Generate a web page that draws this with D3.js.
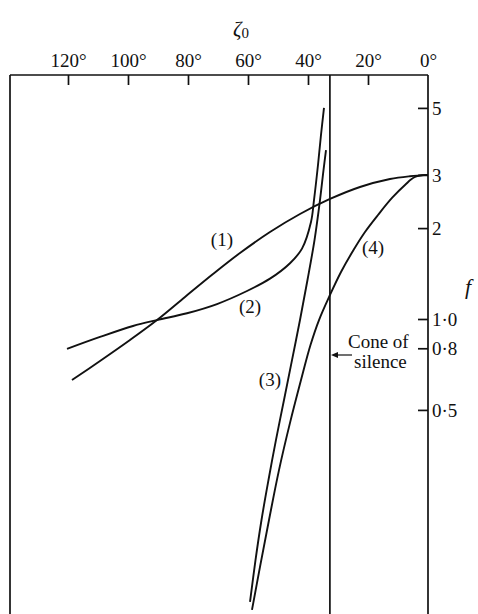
<!DOCTYPE html>
<html><head><meta charset="utf-8">
<script src="https://cdn.jsdelivr.net/npm/d3@7"></script>
<style>
html,body{margin:0;padding:0;background:#fff;}
svg{display:block;}
text{font-family:"Liberation Serif","DejaVu Serif",serif;fill:#111;}
</style></head><body>
<script>
// ζ0 in degrees, f values
const xTicks = [120, 100, 80, 60, 40, 20, 0];
const xTickLabels = ["120°", "100°", "80°", "60°", "40°", "20°", "0°"];
const yTicks = [5, 3, 2, 1.0, 0.8, 0.5];
const yTickLabels = ["5", "3", "2", "1·0", "0·8", "0·5"];
const coneAngle = 32.7;

const curve1 = [[118.67,0.628],[109.33,0.726],[99.33,0.852],[90.33,0.992],[81,1.183],[71.67,1.409],[62.67,1.654],[52.67,1.941],[42.67,2.227],[32.67,2.497],[22.67,2.736],[12.67,2.908],[6,2.97],[0,3.0]];
const curve2 = [[120.33,0.796],[109.33,0.872],[98.33,0.948],[90.33,0.992],[80.33,1.045],[70.33,1.121],[60.33,1.238],[52.67,1.36],[46,1.53],[42,1.71],[39,2.095],[38,2.477],[36.67,3.236],[35.67,4.067],[34.67,5.0]];
const curve3 = [[59.33,0.1156],[57.5,0.159],[55.5,0.216],[53.17,0.293],[50.67,0.398],[48,0.539],[45.33,0.731],[42.67,0.992],[40.17,1.346],[37.83,1.826],[36,2.477],[34.83,3.113],[34,3.627]];
const curve4 = [[58.67,0.1088],[56,0.151],[53,0.216],[49.67,0.316],[46,0.453],[42.33,0.628],[39.17,0.82],[36.33,0.992],[32.67,1.201],[29,1.431],[24.83,1.692],[21,1.941],[16.67,2.21],[12,2.516],[7.67,2.778],[4.33,2.953],[0,3.0]];
const curveLabels = ["(1)", "(2)", "(3)", "(4)"];
const labelPos = [[68.7,1.84],[59.3,1.10],[52.7,0.63],[18.3,1.72]];

const W = 478, H = 614;
const svg = d3.select("body").append("svg").attr("width", W).attr("height", H);

const x = d3.scaleLinear().domain([139.33, 0]).range([10, 428]);
const y = d3.scaleLog().domain([0.1, 10]).range([621, 17]);
const plotTop = 75, plotBottom = 614;

// frame
const g = svg.append("g").attr("stroke", "#111").attr("fill", "none");
g.append("line").attr("x1", x(139.33)).attr("x2", x(0)).attr("y1", plotTop).attr("y2", plotTop).attr("stroke-width", 1.7);
g.append("line").attr("x1", x(139.33)).attr("x2", x(139.33)).attr("y1", plotTop).attr("y2", plotBottom).attr("stroke-width", 1.7);
g.append("line").attr("x1", x(0)).attr("x2", x(0)).attr("y1", plotTop).attr("y2", plotBottom).attr("stroke-width", 1.7);
g.append("line").attr("x1", x(coneAngle)).attr("x2", x(coneAngle)).attr("y1", plotTop).attr("y2", plotBottom).attr("stroke-width", 1.7);

// top axis
const xAxis = d3.axisTop(x).tickValues(xTicks).tickSize(-10).tickPadding(8)
  .tickFormat((d, i) => xTickLabels[i]);
const xa = svg.append("g").attr("transform", `translate(0,${plotTop})`).call(xAxis);
xa.select(".domain").remove();
xa.selectAll(".tick line").attr("stroke", "#111").attr("stroke-width", 1.7)
  .attr("display", d => d === 0 ? "none" : null);
xa.selectAll(".tick text").attr("font-size", 19).attr("font-family", "Liberation Serif").attr("fill", "#111");

// right axis
const yAxis = d3.axisRight(y).tickValues(yTicks).tickSize(-10).tickPadding(14)
  .tickFormat((d, i) => yTickLabels[i]);
const ya = svg.append("g").attr("transform", `translate(${x(0)},0)`).call(yAxis);
ya.select(".domain").remove();
ya.selectAll(".tick line").attr("stroke", "#111").attr("stroke-width", 1.7);
ya.selectAll(".tick text").attr("font-size", 19).attr("font-family", "Liberation Serif").attr("fill", "#111").attr("x", 4);

// axis titles
const zt = svg.append("text").attr("x", 233).attr("y", 36).attr("font-size", 21).attr("font-style", "italic");
zt.append("tspan").text("ζ");
zt.append("tspan").attr("font-size", 15).attr("font-style", "normal").attr("dy", 2).text("0");
svg.append("text").attr("x", 465).attr("y", 294).attr("font-size", 22).attr("font-style", "italic").text("f");

// curves
const line = d3.line().x(d => x(d[0])).y(d => y(d[1])).curve(d3.curveCatmullRom.alpha(0.5));
[curve1, curve2, curve3, curve4].forEach(c => {
  svg.append("path").datum(c).attr("d", line).attr("fill", "none").attr("stroke", "#111").attr("stroke-width", 1.9);
});
curveLabels.forEach((t, i) => {
  svg.append("text").attr("x", x(labelPos[i][0])).attr("y", y(labelPos[i][1]))
    .attr("text-anchor", "middle").attr("dominant-baseline", "central").attr("font-size", 19).text(t);
});

// cone of silence annotation
svg.append("text").attr("x", 348).attr("y", 348).attr("font-size", 19).text("Cone of");
svg.append("text").attr("x", 354).attr("y", 368).attr("font-size", 19).text("silence");
svg.append("line").attr("x1", 352).attr("x2", 336).attr("y1", 355).attr("y2", 355).attr("stroke", "#111").attr("stroke-width", 1.2);
svg.append("path").attr("d", "M331,355 L338,352 L338,358 Z").attr("fill", "#111");
</script>
</body></html>
